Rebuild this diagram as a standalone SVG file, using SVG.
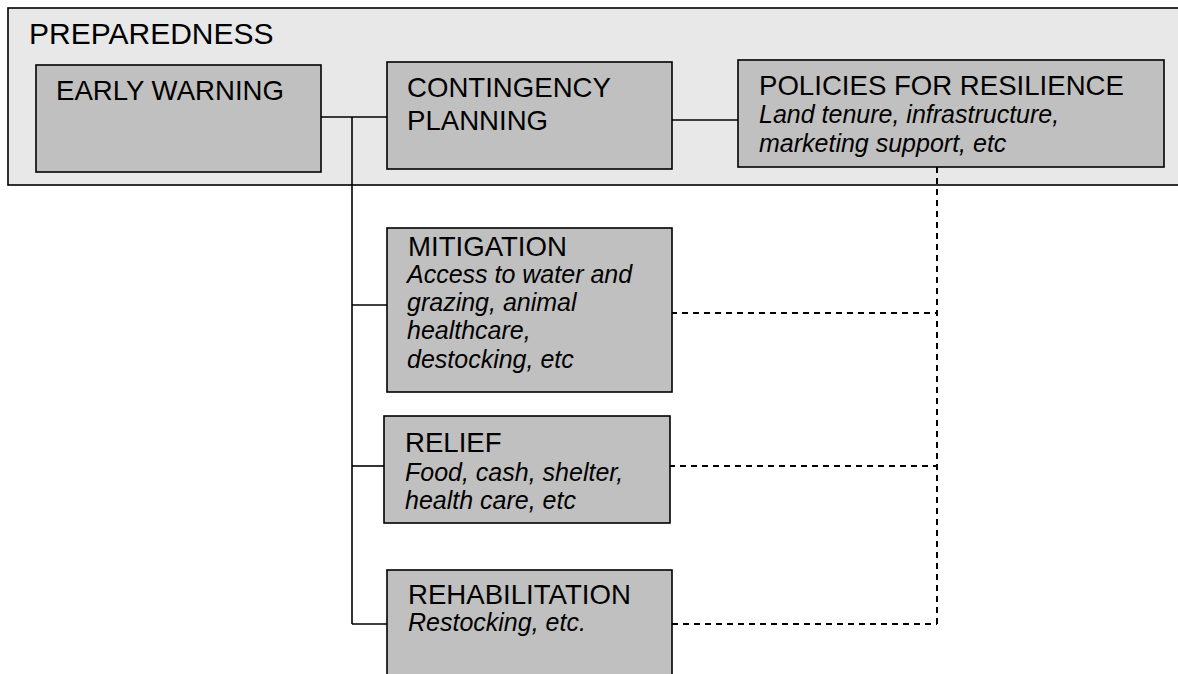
<svg xmlns="http://www.w3.org/2000/svg" width="1178" height="674" viewBox="0 0 1178 674">
<style>
.node{fill:#c0c0c0;stroke:#000;stroke-width:1.6}
.t{font-family:"Liberation Sans",Arial,sans-serif;font-size:27.6px;fill:#000}
.i{font-family:"Liberation Sans",Arial,sans-serif;font-size:25px;font-style:italic;fill:#000}
.solid{stroke:#000;stroke-width:1.6;fill:none}
.dash{stroke:#000;stroke-width:2;fill:none;stroke-dasharray:6 5}
</style>
<rect width="1178" height="674" fill="#fff"/>
<g id="preparedness">
<rect x="8" y="8" width="1180" height="177" fill="#e8e8e8" stroke="#000" stroke-width="1.6"/>
<text x="29" y="44" class="t" style="font-size:30px">PREPAREDNESS</text>
</g>
<g id="connectors">
<line class="solid" x1="320" y1="117" x2="387" y2="117"/>
<line class="solid" x1="352" y1="117" x2="352" y2="624"/>
<line class="solid" x1="352" y1="305" x2="387" y2="305"/>
<line class="solid" x1="352" y1="466" x2="384" y2="466"/>
<line class="solid" x1="352" y1="624" x2="387" y2="624"/>
<line class="solid" x1="672" y1="120" x2="738" y2="120"/>
<line class="dash" x1="937" y1="167" x2="937" y2="624"/>
<line class="dash" x1="671" y1="313" x2="937" y2="313"/>
<line class="dash" x1="669" y1="466" x2="937" y2="466"/>
<line class="dash" x1="672" y1="624" x2="937" y2="624"/>
</g>
<g id="early-warning">
<rect class="node" x="36" y="65" width="285" height="107"/>
<text x="56" y="100" class="t">EARLY WARNING</text>
</g>
<g id="contingency-planning">
<rect class="node" x="387" y="62" width="285" height="107"/>
<text x="407" y="97" class="t">CONTINGENCY</text>
<text x="407" y="130" class="t">PLANNING</text>
</g>
<g id="policies">
<rect class="node" x="738" y="60" width="426" height="107"/>
<text x="759" y="95" class="t">POLICIES FOR RESILIENCE</text>
<text x="759" y="123" class="i">Land tenure, infrastructure,</text>
<text x="759" y="152" class="i">marketing support, etc</text>
</g>
<g id="mitigation">
<rect class="node" x="387" y="228" width="285" height="164"/>
<text x="408" y="256" class="t">MITIGATION</text>
<text x="407" y="283" class="i">Access to water and</text>
<text x="407" y="311" class="i">grazing, animal</text>
<text x="407" y="339" class="i">healthcare,</text>
<text x="407" y="368" class="i">destocking, etc</text>
</g>
<g id="relief">
<rect class="node" x="384" y="416" width="286" height="107"/>
<text x="405" y="452" class="t">RELIEF</text>
<text x="405" y="481" class="i">Food, cash, shelter,</text>
<text x="405" y="509" class="i">health care, etc</text>
</g>
<g id="rehabilitation">
<rect class="node" x="387" y="570" width="285" height="120"/>
<text x="408" y="604" class="t">REHABILITATION</text>
<text x="408" y="631" class="i">Restocking, etc.</text>
</g>
</svg>
